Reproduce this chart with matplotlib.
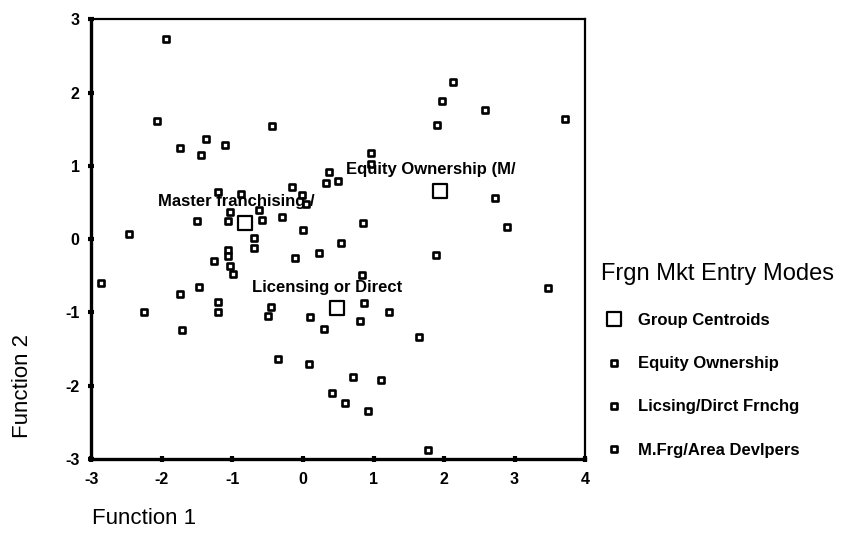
import matplotlib
matplotlib.use("Agg")
import matplotlib.pyplot as plt
from matplotlib.markers import MarkerStyle

plt.rcParams['font.family'] = ['Liberation Sans', 'DejaVu Sans']

# ---- data ----
eq_x = [1.88, 3.47, 2.13, 1.97, 2.58, 3.72, 1.90, 0.96, 0.96, 2.73, 0.855, 2.89]
eq_y = [-0.22, -0.66, 2.15, 1.89, 1.76, 1.64, 1.56, 1.18, 1.03, 0.56, 0.22, 0.16]

lic_x = [0.23, 0.54, -0.45, -0.49, 0.10, 0.30, -0.35, 0.09, 0.41, 0.84, 0.87, 1.22,
         0.81, 1.65, 0.71, 1.10, 0.60, 0.92, 1.775]
lic_y = [-0.19, -0.05, -0.92, -1.05, -1.06, -1.22, -1.63, -1.70, -2.10, -0.49, -0.87, -1.00,
         -1.11, -1.33, -1.88, -1.92, -2.23, -2.35, -2.87]

mf_x = [-1.95, -2.07, -0.44, -1.38, -1.74, -1.10, -1.44, 0.37, 0.32, 0.50, -1.20, -0.88,
        -0.16, -0.02, 0.04, -1.03, -0.62, -1.50, -1.07, -0.585, -0.30, 0.00, -2.47, -0.70,
        -0.70, -1.07, -1.07, -1.26, -1.03, -0.99, -0.11, -2.87, -1.47, -1.75, -1.21, -1.21,
        -2.25, -1.72]
mf_y = [2.73, 1.61, 1.54, 1.37, 1.24, 1.28, 1.15, 0.91, 0.76, 0.79, 0.645, 0.61,
        0.71, 0.60, 0.48, 0.37, 0.40, 0.245, 0.245, 0.26, 0.30, 0.13, 0.07, 0.01,
        -0.12, -0.15, -0.23, -0.30, -0.36, -0.47, -0.26, -0.60, -0.65, -0.75, -0.86, -1.00,
        -1.00, -1.24]

centroid_x = [1.94, 0.477, -0.82]
centroid_y = [0.655, -0.945, 0.22]
centroid_labels = ["Equity Ownership (M/", "Licensing or Direct", "Master franchising /"]

legend_title = "Frgn Mkt Entry Modes"
legend_labels = ["Group Centroids", "Equity Ownership", "Licsing/Dirct Frnchg", "M.Frg/Area Devlpers"]

x_ticks = [-3, -2, -1, 0, 1, 2, 3, 4]
y_ticks = [-3, -2, -1, 0, 1, 2, 3]

# ---- figure ----
fig = plt.figure(figsize=(8.43, 5.44), dpi=100)
ax = fig.add_axes([0.1085, 0.1562, 0.5855, 0.8083])

pt_marker = MarkerStyle('s', joinstyle='round')
pt_kw = dict(linestyle='none', marker=pt_marker, markersize=5.0, markerfacecolor='white',
             markeredgecolor='black', markeredgewidth=1.9)

h_eq, = ax.plot(eq_x, eq_y, **pt_kw)
h_lic, = ax.plot(lic_x, lic_y, **pt_kw)
h_mf, = ax.plot(mf_x, mf_y, **pt_kw)

h_c, = ax.plot(centroid_x, centroid_y, linestyle='none', marker=pt_marker, markersize=10.5,
               markerfacecolor='white', markeredgecolor='black', markeredgewidth=1.6, zorder=4)

for cx, cy, lab in zip(centroid_x, centroid_y, centroid_labels):
    ax.text(cx - 0.13, cy + 0.29, lab, ha='center', va='center', fontsize=12,
            fontweight='bold', color='black', zorder=5)

ax.set_xlim(-3, 4)
ax.set_ylim(-3, 3)
ax.set_xticks(x_ticks)
ax.set_yticks(y_ticks)
ax.set_xticklabels([str(t) for t in x_ticks], fontsize=11.5, fontweight='bold')
ax.set_yticklabels([str(t) for t in y_ticks], fontsize=11.5, fontweight='bold')
ax.tick_params(axis='x', direction='inout', length=5, width=3, pad=7)
ax.tick_params(axis='y', direction='inout', length=5, width=3, pad=6)

for s in ['left', 'bottom']:
    ax.spines[s].set_linewidth(2.4)
for s in ['top', 'right']:
    ax.spines[s].set_linewidth(1.6)

fig.text(92 / 843, 1 - 518 / 544, "Function 1", fontsize=16, ha='left', va='center')
fig.text(23 / 843, 1 - 386 / 544, "Function 2", fontsize=16, ha='center', va='center',
         rotation=90)

leg = fig.legend([h_c, h_eq, h_lic, h_mf], legend_labels, title=legend_title,
                 loc='upper left', bbox_to_anchor=(601 / 843, 1 - 263 / 544),
                 frameon=False, alignment='left', prop={'size': 12, 'weight': 'bold'},
                 title_fontsize=17, labelspacing=1.69, handlelength=1.5,
                 handletextpad=0.75, borderpad=0, borderaxespad=0)

fig.savefig("out.png", dpi=100)
